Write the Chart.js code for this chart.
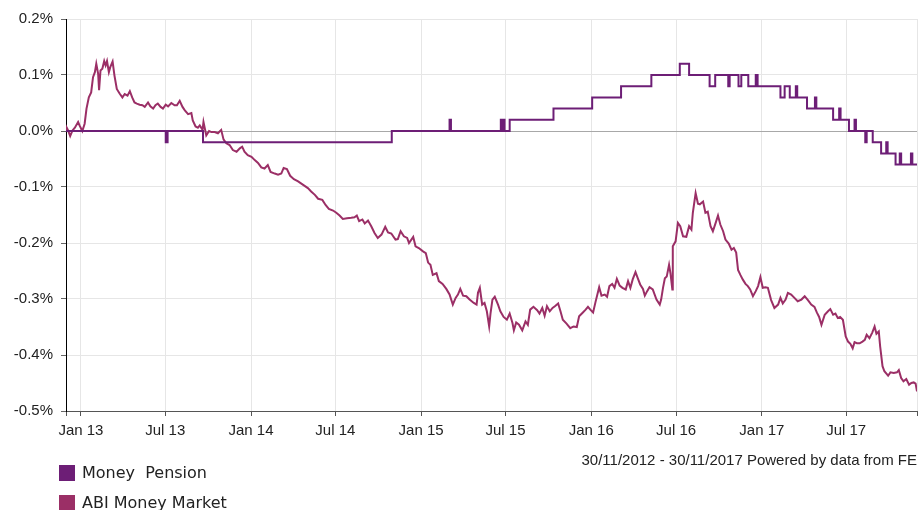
<!DOCTYPE html>
<html>
<head>
<meta charset="utf-8">
<script src="https://cdn.jsdelivr.net/npm/chart.js@4.4.0/dist/chart.umd.min.js"></script>
<style>
  html, body { margin: 0; padding: 0; background: #fff; }
  #wrap { position: relative; width: 920px; height: 510px; overflow: hidden; }
  #chart { position: absolute; left: 0; top: 0; }
  .key { position: absolute; left: 59px; width: 16px; height: 16px; }
  .keytext { position: absolute; left: 82px; font: 16px "DejaVu Sans", Verdana, sans-serif; line-height: 16px; color: #222; white-space: pre; }
  #source { position: absolute; right: 3px; top: 452px; font: 15px "Liberation Sans", Arial, sans-serif; line-height: 15px; color: #222; }
</style>
</head>
<body>
<div id="wrap">
  <canvas id="chart" width="920" height="510"></canvas>
  <div id="source">30/11/2012 - 30/11/2017 Powered by data from FE</div>
  <div class="key" id="key0" style="top:465px"></div>
  <div class="keytext" id="text0" style="top:465px"></div>
  <div class="key" id="key1" style="top:495px"></div>
  <div class="keytext" id="text1" style="top:495px"></div>
</div>
<script>
// period shown
const startDate = "2012-11-30";
const endDate = "2017-11-30";

const seriesNames = ["Money  Pension", "ABI Money Market"];
const seriesColors = ["#6d1e76", "#9b2f66"];

// x tick positions and labels
const xTickDates = ["2013-01-01", "2013-07-01", "2014-01-01", "2014-07-01", "2015-01-01",
  "2015-07-01", "2016-01-01", "2016-07-01", "2017-01-01", "2017-07-01"];
const xTickLabels = ["Jan 13", "Jul 13", "Jan 14", "Jul 14", "Jan 15",
  "Jul 15", "Jan 16", "Jul 16", "Jan 17", "Jul 17"];

// y ticks (percent)
const yTickValues = [-0.5, -0.4, -0.3, -0.2, -0.1, 0, 0.1, 0.2];
const yTickLabels = ["-0.5%", "-0.4%", "-0.3%", "-0.2%", "-0.1%", "0.0%", "0.1%", "0.2%"];

// Money Pension: day (since start) where the level changes, and the new level (%)
const pensionDays = [0, 214, 218, 294, 699, 823, 826, 933, 935, 938,
  941, 952, 1046, 1129, 1191, 1256, 1317, 1337, 1381, 1393,
  1421, 1424, 1443, 1449, 1464, 1480, 1484, 1533, 1542, 1553,
  1566, 1569, 1590, 1607, 1610, 1646, 1659, 1662, 1680, 1692,
  1695, 1715, 1718, 1731, 1749, 1760, 1763, 1780, 1789, 1792,
  1813, 1816, 1826];
const pensionValues = [0, -0.02, 0, -0.02, 0, 0.02, 0, 0.02, 0, 0.02,
  0, 0.02, 0.04, 0.06, 0.08, 0.10, 0.12, 0.10, 0.08, 0.10,
  0.08, 0.10, 0.08, 0.10, 0.08, 0.10, 0.08, 0.06, 0.08, 0.06,
  0.08, 0.06, 0.04, 0.06, 0.04, 0.02, 0.04, 0.02, 0, 0.02,
  0, -0.02, 0, -0.02, -0.04, -0.02, -0.04, -0.06, -0.04, -0.06,
  -0.04, -0.06, -0.06];

// ABI Money Market: day since start, cumulative return (%)
const abiDays = [0, 1, 4, 9, 14, 19, 26, 29, 35, 40,
  44, 49, 54, 58, 62, 65, 69, 71, 74, 78,
  82, 85, 88, 92, 95, 100, 104, 109, 115, 121,
  126, 132, 137, 142, 147, 152, 158, 164, 169, 176,
  181, 187, 192, 197, 203, 208, 214, 219, 226, 233,
  238, 244, 250, 255, 262, 269, 272, 278, 283, 287,
  293, 295, 301, 307, 312, 319, 326, 333, 338, 344,
  351, 358, 366, 373, 378, 383, 390, 398, 405, 412,
  419, 426, 433, 439, 448, 455, 462, 467, 474, 481,
  489, 498, 505, 512, 519, 526, 534, 541, 550, 557,
  564, 573, 580, 587, 594, 603, 612, 619, 624, 629,
  636, 641, 648, 655, 662, 669, 677, 685, 691, 698,
  707, 712, 718, 725, 732, 736, 745, 750, 757, 766,
  772, 777, 782, 787, 795, 800, 808, 816, 823, 830,
  836, 841, 846, 852, 859, 866, 875, 881, 884, 888,
  893, 898, 903, 908, 911, 915, 920, 927, 932, 939,
  946, 952, 958, 961, 966, 972, 979, 986, 991, 996,
  1003, 1011, 1016, 1022, 1027, 1032, 1038, 1044, 1049, 1056,
  1061, 1066, 1074, 1082, 1089, 1096, 1101, 1108, 1115, 1120,
  1125, 1131, 1136, 1144, 1149, 1156, 1161, 1166, 1172, 1177,
  1182, 1188, 1194, 1201, 1206, 1211, 1216, 1222, 1227, 1232,
  1238, 1242, 1247, 1252, 1259, 1267, 1274, 1277, 1281, 1285,
  1289, 1294, 1297, 1301, 1302, 1308, 1313, 1318, 1324, 1331,
  1337, 1342, 1345, 1351, 1356, 1360, 1367, 1372, 1377, 1383,
  1388, 1394, 1399, 1404, 1410, 1415, 1422, 1428, 1433, 1438,
  1442, 1447, 1452, 1458, 1463, 1468, 1474, 1480, 1485, 1490,
  1495, 1501, 1506, 1513, 1520, 1528, 1533, 1538, 1544, 1549,
  1556, 1563, 1570, 1578, 1585, 1592, 1599, 1606, 1611, 1616,
  1621, 1628, 1635, 1640, 1646, 1651, 1656, 1661, 1667, 1673,
  1678, 1683, 1688, 1692, 1697, 1703, 1709, 1714, 1718, 1724,
  1730, 1735, 1739, 1744, 1747, 1752, 1756, 1764, 1769, 1776,
  1783, 1787, 1792, 1797, 1803, 1809, 1814, 1819, 1823, 1826];
const abiValues = [0, 0.007, 0.002, -0.009, 0.001, 0.006, 0.016, 0.010, 0.000, 0.013,
  0.040, 0.060, 0.069, 0.096, 0.105, 0.120, 0.102, 0.073, 0.108, 0.111,
  0.125, 0.117, 0.125, 0.105, 0.114, 0.124, 0.099, 0.075, 0.067, 0.060,
  0.066, 0.063, 0.071, 0.060, 0.051, 0.049, 0.047, 0.046, 0.043, 0.051,
  0.044, 0.040, 0.046, 0.049, 0.043, 0.040, 0.047, 0.044, 0.050, 0.046,
  0.046, 0.054, 0.043, 0.037, 0.030, 0.032, 0.019, 0.008, 0.006, 0.010,
  0.002, 0.016, -0.008, 0.000, -0.002, -0.002, -0.004, 0.002, -0.015, -0.022,
  -0.025, -0.034, -0.037, -0.031, -0.028, -0.037, -0.043, -0.046, -0.052, -0.057,
  -0.065, -0.067, -0.061, -0.073, -0.076, -0.078, -0.076, -0.066, -0.068, -0.080,
  -0.086, -0.090, -0.094, -0.098, -0.102, -0.108, -0.114, -0.121, -0.123, -0.132,
  -0.139, -0.142, -0.146, -0.151, -0.157, -0.156, -0.155, -0.154, -0.151, -0.161,
  -0.158, -0.165, -0.160, -0.170, -0.182, -0.191, -0.185, -0.171, -0.181, -0.183,
  -0.194, -0.193, -0.179, -0.188, -0.191, -0.200, -0.189, -0.206, -0.209, -0.215,
  -0.218, -0.235, -0.239, -0.257, -0.254, -0.268, -0.273, -0.282, -0.292, -0.310,
  -0.298, -0.292, -0.282, -0.294, -0.295, -0.301, -0.307, -0.310, -0.289, -0.280,
  -0.310, -0.307, -0.322, -0.349, -0.325, -0.301, -0.296, -0.310, -0.322, -0.332,
  -0.337, -0.326, -0.343, -0.356, -0.342, -0.346, -0.356, -0.340, -0.346, -0.319,
  -0.314, -0.320, -0.326, -0.316, -0.330, -0.313, -0.322, -0.316, -0.313, -0.308,
  -0.322, -0.337, -0.344, -0.352, -0.349, -0.350, -0.331, -0.325, -0.319, -0.314,
  -0.319, -0.324, -0.306, -0.279, -0.294, -0.292, -0.296, -0.277, -0.273, -0.280,
  -0.264, -0.276, -0.280, -0.283, -0.268, -0.280, -0.265, -0.252, -0.263, -0.274,
  -0.282, -0.294, -0.286, -0.279, -0.283, -0.301, -0.310, -0.301, -0.280, -0.263,
  -0.260, -0.239, -0.254, -0.283, -0.206, -0.197, -0.164, -0.170, -0.188, -0.189,
  -0.170, -0.176, -0.146, -0.111, -0.130, -0.131, -0.126, -0.146, -0.144, -0.170,
  -0.179, -0.164, -0.151, -0.167, -0.179, -0.194, -0.201, -0.212, -0.209, -0.217,
  -0.248, -0.257, -0.265, -0.273, -0.277, -0.283, -0.295, -0.286, -0.277, -0.261,
  -0.280, -0.279, -0.280, -0.302, -0.316, -0.310, -0.298, -0.308, -0.301, -0.289,
  -0.292, -0.298, -0.304, -0.301, -0.295, -0.302, -0.310, -0.314, -0.324, -0.332,
  -0.346, -0.328, -0.322, -0.318, -0.328, -0.326, -0.334, -0.332, -0.337, -0.367,
  -0.376, -0.380, -0.388, -0.377, -0.379, -0.379, -0.376, -0.373, -0.364, -0.370,
  -0.360, -0.349, -0.362, -0.358, -0.385, -0.420, -0.429, -0.437, -0.431, -0.432,
  -0.431, -0.427, -0.441, -0.447, -0.443, -0.453, -0.450, -0.449, -0.451, -0.465];

const DAY = 86400000;
const dayOf = (s) => Math.round((Date.parse(s) - Date.parse(startDate)) / DAY);
const lastDay = dayOf(endDate);
const xTickDays = xTickDates.map(dayOf);

const toPoints = (xs, ys) => xs.map((x, i) => ({ x: x, y: ys[i] }));

// html legend
seriesNames.forEach((name, i) => {
  document.getElementById("key" + i).style.background = seriesColors[i];
  document.getElementById("text" + i).textContent = name;
});

const tickFont = { family: "'Liberation Sans', Arial, sans-serif", size: 15 };

new Chart(document.getElementById("chart"), {
  type: "line",
  data: {
    datasets: [
      {
        label: seriesNames[0],
        data: toPoints(pensionDays, pensionValues),
        borderColor: seriesColors[0],
        borderWidth: 2,
        stepped: true,
        pointRadius: 0
      },
      {
        label: seriesNames[1],
        data: toPoints(abiDays, abiValues),
        borderColor: seriesColors[1],
        borderWidth: 2,
        pointRadius: 0
      }
    ]
  },
  options: {
    responsive: false,
    animation: false,
    devicePixelRatio: 1,
    layout: { padding: { left: 0, right: 3, top: 19, bottom: 69 } },
    plugins: { legend: { display: false }, tooltip: { enabled: false } },
    scales: {
      x: {
        type: "linear",
        min: 0,
        max: lastDay,
        afterBuildTicks: (s) => {
          s.ticks = [0].concat(xTickDays, [lastDay]).map((v) => ({ value: v }));
        },
        afterFit: (s) => {
          s.height = 30;
          // edge ticks have no label, so no extra side padding needed
          s.paddingLeft = 0;
          s.paddingRight = 0;
        },
        ticks: {
          autoSkip: false,
          maxRotation: 0,
          padding: 6,
          color: "#222",
          font: tickFont,
          callback: (v) => {
            const i = xTickDays.indexOf(v);
            return i >= 0 ? xTickLabels[i] : "";
          }
        },
        grid: { color: "#e6e6e6", tickColor: "#555", tickLength: 5 },
        border: { color: "#555", width: 1 }
      },
      y: {
        min: -0.5,
        max: 0.2,
        afterBuildTicks: (s) => {
          s.ticks = yTickValues.map((v) => ({ value: v }));
        },
        afterFit: (s) => { s.width = 66; },
        ticks: {
          padding: 8,
          color: "#222",
          font: tickFont,
          callback: (v) => {
            const i = yTickValues.findIndex((t) => Math.abs(t - v) < 1e-9);
            return i >= 0 ? yTickLabels[i] : "";
          }
        },
        grid: {
          color: (ctx) => (ctx.tick && Math.abs(ctx.tick.value) < 1e-9 ? "#a8a8a8" : "#e6e6e6"),
          tickColor: "#666",
          tickLength: 5
        },
        border: { color: "#000", width: 1 }
      }
    }
  }
});
</script>
</body>
</html>
